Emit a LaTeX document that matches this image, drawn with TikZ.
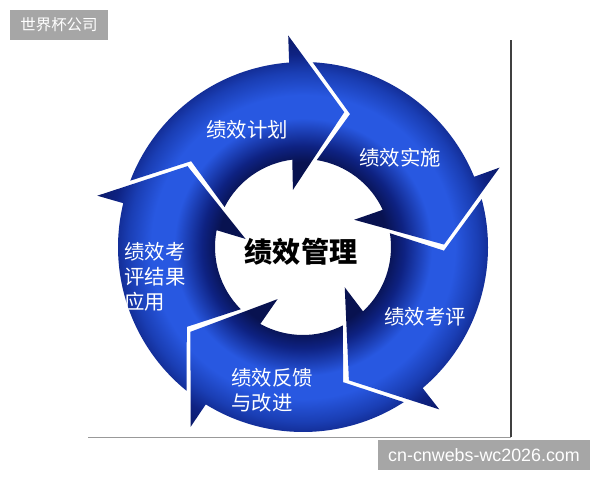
\documentclass[tikz,border=0pt]{standalone}
\usepackage{fontspec}
\setmainfont{Liberation Sans}
\newfontfamily\cjk{Noto Sans CJK SC}
\definecolor{ringnavy}{RGB}{8,18,80}
\definecolor{ringdark}{RGB}{14,34,130}
\definecolor{ringblue}{RGB}{40,88,225}
\definecolor{ringmid}{RGB}{26,62,180}
\definecolor{markgray}{RGB}{166,166,166}
\usetikzlibrary{positioning}
\pgfdeclareradialshading{ringshade}{\pgfpoint{0bp}{0bp}}{%
  color(0bp)=(ringnavy); color(9.2bp)=(ringnavy); color(11bp)=(ringdark);
  color(14bp)=(ringblue); color(16.5bp)=(ringblue); color(19bp)=(ringmid);
  color(21bp)=(ringdark); color(25bp)=(ringnavy)}

\begin{document}
\begin{tikzpicture}[
  x=0.025cm,y=0.025cm,
  seglabel/.style={text=white,font=\cjk\fontsize{14.5}{17.7}\selectfont,
                   align=left,inner sep=0pt},
  hublabel/.style={font=\cjk\bfseries\fontsize{20}{24}\selectfont,inner sep=0pt},
  markbox/.style={fill=markgray,text=white,inner sep=0pt,minimum height=7.5mm},
]
  \useasboundingbox (0,0) rectangle (600,480);

  % Frame
  \coordinate (frameL) at (88,43);
  \coordinate (frameC) at (511,43);
  \coordinate (frameT) at (511,440);
  \draw[black!40,line width=0.6pt] (frameL) -- (frameC);
  \draw[black!75,line width=0.8pt] (frameC) -- (frameT);

  % Ring of arrows
  \begin{scope}[shift={(303,233)}]
    \clip \foreach \t in {73,1,-71,-143,-215} {
      (\t+86:185) arc[start angle=\t+86,end angle=\t+21.3,radius=185]
      -- (\t+21:212) -- (\t:141) -- (\t+27:58) -- (\t+24:88)
      arc[start angle=\t+24,end angle=\t+80,radius=88]
      -- (\t+69.5:141) -- cycle
    };
    \shade[shading=ringshade] (0,0) circle (230);
  \end{scope}

  % Labels
  \node[hublabel] (hub) at (301,228) {绩效管理};
  \node[seglabel] (plan) at (247,350) {绩效计划};
  \node[seglabel] (act) at (400,322) {绩效实施};
  \node[seglabel] (review) at (425,163) {绩效考评};
  \node[seglabel,anchor=west] (feedback) at (231,90) {绩效反馈\\与改进};
  \node[seglabel,anchor=west] (apply) at (124,203) {绩效考\\评结果\\应用};

  % Watermarks
  \node[markbox,minimum width=24.5mm,font=\cjk\fontsize{11}{13}\selectfont]
    (mark) at (59,455) {世界杯公司};
  \node[markbox,minimum width=53mm,font=\fontsize{12.7}{15}\selectfont]
    (site) at (484,25) {cn-cnwebs-wc2026.com};
\end{tikzpicture}
\end{document}
